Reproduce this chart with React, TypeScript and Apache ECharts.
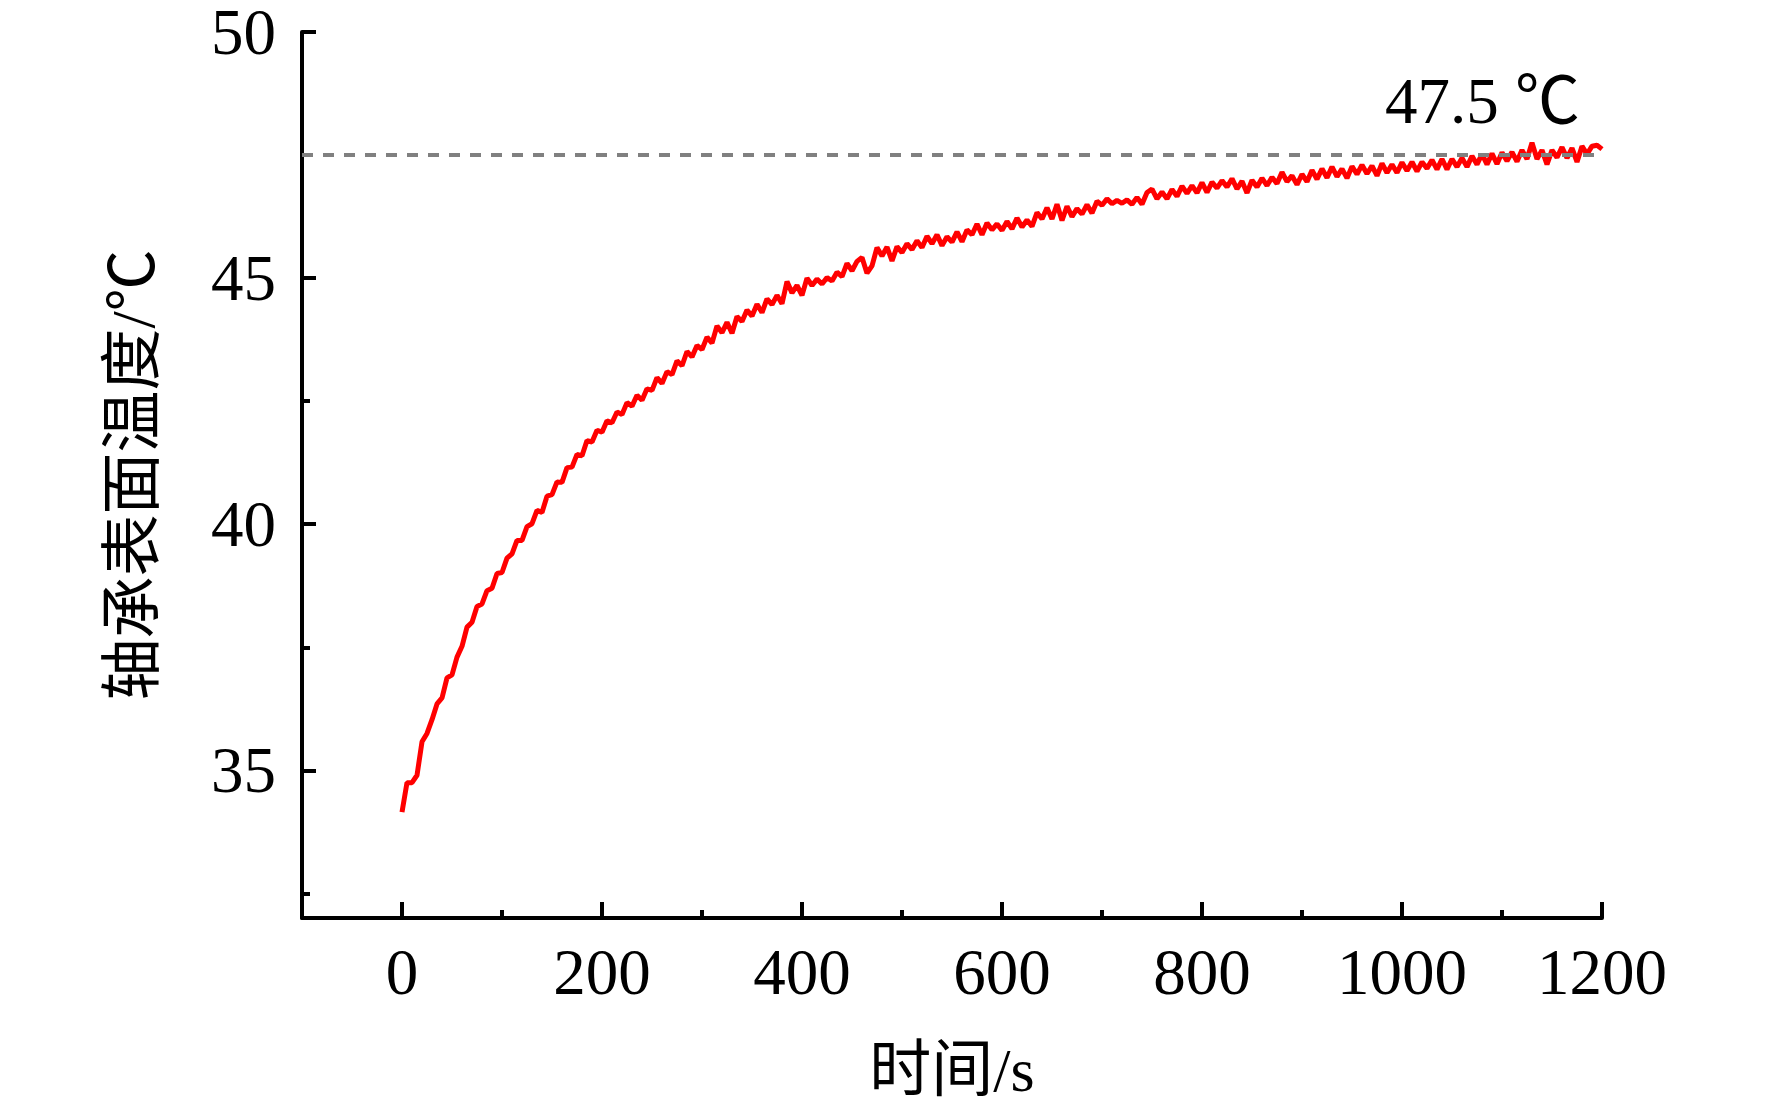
import React, { useEffect, useRef } from "react";
import * as echarts from "echarts";

// Sampling step of the recorded temperature trace (s)
const sampleStep = 5;

// Bearing surface temperature (°C), one reading every 5 s from t = 0 to 1200 s
const temperature = [
  34.15, 34.75, 34.75, 34.9, 35.58, 35.75, 36.03, 36.35, 36.47, 36.88,
  36.94, 37.3, 37.52, 37.91, 38.01, 38.33, 38.38, 38.65, 38.7, 39.0,
  39.02, 39.31, 39.4, 39.67, 39.67, 39.95, 40.01, 40.28, 40.24, 40.57,
  40.6, 40.86, 40.85, 41.15, 41.16, 41.42, 41.39, 41.7, 41.67, 41.91,
  41.87, 42.1, 42.06, 42.28, 42.23, 42.47, 42.4, 42.62, 42.52, 42.75,
  42.72, 42.98, 42.86, 43.1, 43.04, 43.32, 43.22, 43.51, 43.4, 43.63,
  43.55, 43.8, 43.68, 44.03, 43.89, 44.1, 43.88, 44.22, 44.12, 44.35,
  44.23, 44.47, 44.3, 44.58, 44.46, 44.65, 44.48, 44.93, 44.7, 44.85,
  44.65, 45.0, 44.85, 44.98, 44.88, 45.01, 44.94, 45.12, 45.03, 45.3,
  45.15, 45.34, 45.42, 45.1, 45.25, 45.62, 45.45, 45.63, 45.35, 45.64,
  45.52, 45.7, 45.58, 45.76, 45.62, 45.85, 45.7, 45.88, 45.66, 45.84,
  45.73, 45.94, 45.74, 45.98, 45.88, 46.1, 45.88, 46.12, 45.98, 46.1,
  45.97, 46.15, 46.0, 46.22, 46.04, 46.18, 46.05, 46.33, 46.2, 46.43,
  46.2, 46.5, 46.17, 46.46, 46.25, 46.41, 46.3, 46.49, 46.32, 46.56,
  46.48, 46.61, 46.51, 46.58, 46.52, 46.59, 46.5, 46.64, 46.5, 46.74,
  46.81, 46.61, 46.75, 46.61, 46.8, 46.66, 46.87, 46.72, 46.88, 46.73,
  46.94, 46.74, 46.95, 46.83, 46.98, 46.85, 47.02, 46.81, 46.97, 46.73,
  46.99, 46.85, 47.03, 46.88, 47.05, 46.92, 47.15, 46.96, 47.08, 46.9,
  47.11, 46.96, 47.19, 47.01, 47.22, 47.04, 47.26, 47.06, 47.22, 47.03,
  47.27, 47.11, 47.3, 47.12, 47.28, 47.08, 47.33, 47.14, 47.31, 47.14,
  47.35, 47.18, 47.36, 47.17, 47.36, 47.23, 47.4, 47.21, 47.42, 47.21,
  47.42, 47.26, 47.44, 47.26, 47.48, 47.31, 47.52, 47.31, 47.53, 47.32,
  47.55, 47.38, 47.56, 47.37, 47.6, 47.42, 47.75, 47.42, 47.6, 47.31,
  47.6, 47.45, 47.66, 47.44, 47.64, 47.36, 47.68, 47.52, 47.68, 47.7,
  47.62,
];

const steadyTemp = 47.5;
const steadyLabel = "47.5 ℃";

const xMajorTicks = [0, 200, 400, 600, 800, 1000, 1200];
const xMinorTicks = [100, 300, 500, 700, 900, 1100];
const yMajorTicks = [35, 40, 45, 50];
const yMinorTicks = [32.5, 37.5, 42.5, 47.5];

const xName = "时间/s";
const yName = "轴承表面温度/℃";

const serif = "'Liberation Serif', 'Times New Roman', 'Noto Sans CJK SC', serif";

export default function App() {
  const ref = useRef<HTMLDivElement>(null);

  useEffect(() => {
    if (!ref.current) return;
    const chart = echarts.init(ref.current, null, { renderer: "svg" });
    const seriesData = temperature.map((v, i) => [i * sampleStep, v]);
    const axisLineStyle = { color: "#000", width: 4 };
    const plain = (v: number) => String(v);

    chart.setOption({
      animation: false,
      backgroundColor: "#fff",
      grid: {
        left: 302,
        top: 32,
        width: 1300,
        height: 886,
        containLabel: false,
        outerBoundsMode: "none",
      },
      xAxis: [
        {
          type: "value",
          min: -100,
          max: 1200,
          position: "bottom",
          axisLine: { show: true, onZero: false, lineStyle: axisLineStyle },
          axisTick: {
            show: true,
            inside: true,
            length: 16,
            customValues: xMajorTicks,
            lineStyle: { color: "#000", width: 4 },
          },
          axisLabel: {
            show: true,
            customValues: xMajorTicks,
            formatter: plain,
            fontSize: 65,
            lineHeight: 60,
            color: "#000",
            fontFamily: serif,
            margin: 24,
          },
          splitLine: { show: false },
          name: xName,
          nameLocation: "middle",
          nameGap: 121,
          nameTextStyle: { fontSize: 62, color: "#000", fontFamily: serif },
        },
        {
          type: "value",
          min: -100,
          max: 1200,
          position: "bottom",
          axisLine: { show: false, onZero: false },
          axisTick: {
            show: true,
            inside: true,
            length: 8,
            customValues: xMinorTicks,
            lineStyle: { color: "#000", width: 4 },
          },
          axisLabel: { show: false },
          splitLine: { show: false },
        },
      ],
      yAxis: [
        {
          type: "value",
          min: 32,
          max: 50,
          position: "left",
          axisLine: { show: true, onZero: false, lineStyle: axisLineStyle },
          axisTick: {
            show: true,
            inside: true,
            length: 14,
            customValues: yMajorTicks,
            lineStyle: { color: "#000", width: 4 },
          },
          axisLabel: {
            show: true,
            customValues: yMajorTicks,
            formatter: plain,
            fontSize: 65,
            lineHeight: 60,
            color: "#000",
            fontFamily: serif,
            margin: 26,
          },
          splitLine: { show: false },
          name: yName,
          nameLocation: "middle",
          nameGap: 138,
          nameTextStyle: { fontSize: 62, color: "#000", fontFamily: serif },
        },
        {
          type: "value",
          min: 32,
          max: 50,
          position: "left",
          axisLine: { show: false, onZero: false },
          axisTick: {
            show: true,
            inside: true,
            length: 8,
            customValues: yMinorTicks,
            lineStyle: { color: "#000", width: 4 },
          },
          axisLabel: { show: false },
          splitLine: { show: false },
        },
      ],
      series: [
        {
          type: "line",
          xAxisIndex: 0,
          yAxisIndex: 0,
          data: seriesData,
          showSymbol: false,
          symbol: "none",
          lineStyle: { color: "#ff0000", width: 5 },
          z: 2,
          markLine: {
            silent: true,
            symbol: "none",
            z: 3,
            lineStyle: { color: "#808080", type: [11, 10], width: 4 },
            label: {
              show: true,
              position: "insideEndTop",
              formatter: steadyLabel,
              fontSize: 65,
              color: "#000",
              fontFamily: serif,
              distance: 22,
            },
            data: [{ yAxis: steadyTemp }],
          },
        },
      ],
    });

    return () => chart.dispose();
  }, []);

  return (
    <div
      ref={ref}
      style={{
        position: "fixed",
        left: 0,
        top: 0,
        width: 1772,
        height: 1110,
        background: "#fff",
      }}
    />
  );
}
